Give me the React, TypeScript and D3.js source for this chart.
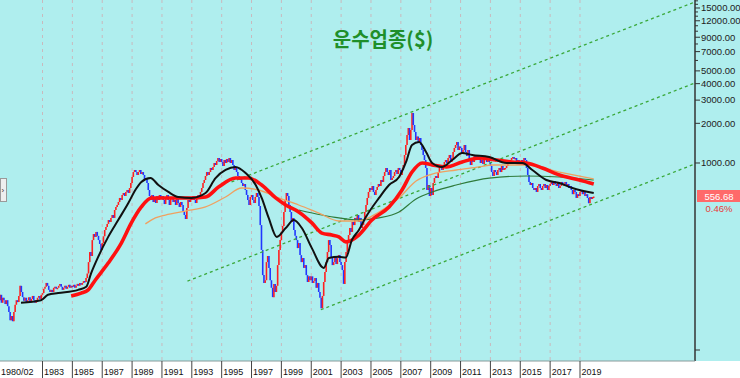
import React from "react";
import * as d3 from "d3";

// Monthly closes, Feb 1980 .. Dec 2019
const closes1980s = [
  91, 100, 87, 95, 91, 85, 91, 82, 74, 64, 69,
  63, 74, 84, 91, 88, 98, 117, 105, 96, 90, 95, 88,
  91, 96, 88, 93, 98, 91, 87, 91, 95, 98, 93, 100,
  103, 111, 115, 123, 117, 109, 105, 109, 105, 113, 115, 111,
  113, 117, 121, 115, 109, 113, 117, 111, 115, 119, 113, 117,
  115, 119, 113, 117, 121, 117, 123, 119, 123, 127, 125, 134,
  145, 177, 211, 197, 260, 289, 275, 300, 280, 260, 243, 219,
  247, 278, 310, 327, 345, 369, 357, 383, 403, 383, 440, 464,
  480, 506, 543, 524, 572, 592, 562, 603, 624, 592, 646, 705,
  783, 854, 885, 854, 811, 854, 885, 825, 854, 811, 756, 769,
];
const closes1990s = [
  705, 624, 562, 524, 572, 506, 543, 497, 562, 524, 572, 543,
  562, 524, 488, 543, 572, 524, 480, 533, 552, 506, 524, 480,
  543, 497, 464, 506, 480, 425, 403, 376, 456, 524, 506, 543,
  524, 562, 524, 497, 552, 572, 543, 603, 646, 705, 743, 797,
  854, 811, 854, 917, 885, 933, 1000, 966, 1036, 1091, 1018, 1072,
  1018, 950, 1054, 1000, 1072, 1018, 1091, 1000, 1054, 966, 885, 917,
  854, 797, 743, 769, 705, 669, 693, 624, 572, 524, 480, 552,
  572, 524, 497, 552, 592, 552, 472, 338, 219, 141, 123, 129,
  177, 197, 160, 129, 113, 96, 121, 105, 117, 168, 219, 260,
  300, 333, 425, 524, 592, 562, 480, 425, 357, 383, 310, 280,
];
const closes2000s = [
  260, 226, 247, 200, 177, 190, 160, 168, 141, 125, 138, 129,
  138, 123, 127, 134, 113, 123, 105, 95, 79, 98, 125, 149,
  177, 211, 260, 239, 190, 168, 177, 197, 171, 190, 200, 177,
  168, 154, 121, 177, 211, 252, 284, 321, 300, 357, 338, 383,
  369, 403, 357, 383, 321, 338, 369, 425, 480, 543, 603, 646,
  624, 669, 603, 572, 624, 657, 693, 669, 743, 718, 797, 854,
  917, 854, 811, 885, 743, 769, 797, 854, 885, 825, 917, 885,
  811, 885, 966, 1150, 1369, 1631, 1843, 1494, 1780, 2395, 1942, 1720,
  1494, 1589, 1443, 1547, 1369, 1255, 1150, 1054, 917, 624, 681, 562,
  646, 572, 705, 769, 797, 769, 854, 917, 950, 885, 966, 1018,
];
const closes2010s = [
  1054, 1000, 1091, 1150, 1018, 1091, 1212, 1300, 1369, 1443, 1255, 1335,
  1300, 1190, 1255, 1369, 1212, 1130, 1255, 1054, 966, 1091, 1018, 1130,
  1091, 1150, 1054, 1110, 1000, 1054, 983, 1091, 1130, 1018, 1054, 1018,
  950, 854, 797, 885, 854, 811, 885, 917, 854, 950, 885, 917,
  917, 950, 983, 1018, 1054, 1091, 1110, 1072, 1091, 1018, 1054, 1000,
  1018, 1054, 1000, 1091, 1054, 917, 811, 718, 681, 705, 646, 624,
  646, 603, 669, 693, 646, 624, 669, 693, 646, 681, 624, 669,
  693, 718, 681, 730, 693, 669, 705, 646, 669, 718, 681, 693,
  718, 669, 693, 646, 669, 624, 580, 624, 603, 543, 580, 562,
  603, 624, 580, 603, 562, 580, 543, 495, 552, 533, 552, 556.68,
];

// Moving averages: [decimal year, value]
const ma20: [number, number][] = [
  [1981.56, 87], [1982.9, 91], [1983.37, 100], [1984.05, 103], [1985.39, 109], [1985.93, 115],
  [1986.26, 146], [1986.73, 194], [1987.4, 275], [1988.07, 369], [1988.75, 497], [1989.22, 624],
  [1989.62, 718], [1990.23, 769], [1990.76, 681], [1991.43, 603], [1992.1, 552], [1992.98, 543],
  [1993.92, 592], [1994.59, 769], [1995.26, 885], [1995.93, 933], [1996.6, 840], [1997.28, 681],
  [1997.68, 543], [1998.15, 383], [1998.69, 275], [1999.29, 321], [1999.83, 369], [2000.37, 321],
  [2001.04, 226], [2001.84, 160], [2002.18, 190], [2002.85, 194], [2003.32, 192], [2003.72, 260],
  [2004.19, 310], [2004.66, 389], [2005.54, 543], [2006.21, 681], [2006.88, 783], [2007.35, 1018],
  [2007.75, 1369], [2008.22, 1443], [2008.69, 1212], [2009.1, 1000], [2009.77, 933], [2010.44, 1054],
  [2011.11, 1190], [2011.78, 1150], [2012.92, 1110], [2014.07, 1000], [2015.14, 1000], [2015.81, 885],
  [2016.75, 743], [2017.62, 705], [2018.49, 646], [2019.92, 592],
];
const ma60: [number, number][] = [
  [1984.92, 98], [1985.59, 103], [1986.06, 109], [1986.53, 129], [1987.4, 174], [1988.28, 247],
  [1988.95, 351], [1989.62, 464], [1990.29, 543], [1991.43, 543], [1992.98, 543], [1993.92, 552],
  [1994.79, 657], [1995.93, 769], [1996.8, 769], [1997.68, 681], [1998.62, 543], [1999.29, 480],
  [2000.16, 425], [2001.04, 351], [2001.71, 294], [2002.38, 284], [2002.85, 275], [2003.32, 252],
  [2004.19, 284], [2005.06, 369], [2006.21, 464], [2007.08, 624], [2007.75, 854], [2008.43, 1000],
  [2009.1, 966], [2010.04, 933], [2011.11, 1018], [2012.25, 1091], [2013.39, 1054], [2014.47, 1018],
  [2015.41, 1000], [2016.48, 917], [2017.62, 811], [2018.96, 743], [2019.92, 693],
];
const ma120: [number, number][] = [
  [1989.89, 345], [1990.56, 383], [1991.23, 403], [1992.57, 432], [1993.92, 464], [1995.26, 552],
  [1996.34, 646], [1997.48, 624], [1998.82, 543], [2000.16, 480], [2001.51, 417], [2002.85, 363],
  [2004.19, 363], [2005.54, 425], [2006.88, 543], [2008.02, 730], [2009.1, 825], [2010.71, 885],
  [2012.25, 933], [2013.12, 966], [2015.41, 966], [2017.62, 854], [2019.92, 757],
];
const ma240: [number, number][] = [
  [2000.16, 440], [2001.71, 403], [2002.85, 383], [2004.19, 369], [2005.54, 383], [2006.88, 425],
  [2008.02, 533], [2009.1, 603], [2010.71, 681], [2012.92, 769], [2015.41, 797], [2017.62, 783],
  [2019.92, 743],
];

// Trend channel: two points each [decimal year, value]
const trendLower: [number, number][] = [[2001.64, 77], [2026.69, 983]];
const trendMiddle: [number, number][] = [[1992.71, 127], [2026.69, 4045]];
const trendUpper: [number, number][] = [[1995.66, 718], [2026.69, 16650]];

const axisMajor = [1000, 2000, 3000, 4000, 5000, 7000, 9000, 12000, 15000];
const axisMinor = [6000, 8000, 10000, 11000, 13000, 14000, 16000, 17000];
const xTickYears = [1983, 1985, 1987, 1989, 1991, 1993, 1995, 1997, 1999, 2001, 2003, 2005, 2007, 2009, 2011, 2013, 2015, 2017, 2019];
const firstLabel = "1980/02";
const title = "운수업종($)";
const lastChange = "0.46%";

const W = 740;
const H = 378;
const PLOT_R = 695;
const PLOT_B = 361;
const FONT = "'Liberation Sans', Arial, sans-serif";

export default function App() {
  const closes = [...closes1980s, ...closes1990s, ...closes2000s, ...closes2010s];
  const dateOf = (i: number) => 1980 + (i + 1) / 12;
  const x = d3.scaleLinear().domain([1983, 2019]).range([42.5, 580]);
  const y = d3.scaleLog().domain([31.45, 17250]).range([PLOT_B, 0]);

  const bars = closes.map((c, i) => {
    const o = i === 0 ? c : closes[i - 1];
    let y0 = y(Math.max(o, c));
    let y1 = y(Math.min(o, c));
    if (y1 - y0 < 1.5) y1 = y0 + 1.5;
    return { xp: x(dateOf(i)), y0, y1, up: c >= o };
  });

  const maLine = d3
    .line<[number, number]>()
    .x((d) => x(d[0]))
    .y((d) => y(d[1]))
    .curve(d3.curveMonotoneX);

  const tEnd = x.invert(PLOT_R);
  const trendPath = (pts: [number, number][]) => {
    const [[t0, v0], [t1, v1]] = pts;
    const slope = (Math.log10(v1) - Math.log10(v0)) / (t1 - t0);
    const vEnd = Math.pow(10, Math.log10(v0) + slope * (tEnd - t0));
    return `M${x(t0)},${y(v0)}L${PLOT_R},${y(vEnd)}`;
  };

  const labelDates = [1980 + 1 / 12, ...xTickYears];
  const labelTexts = [firstLabel, ...xTickYears.map(String)];
  const last = closes[closes.length - 1];

  return (
    <svg
      width={W}
      height={H}
      style={{ position: "absolute", left: 0, top: 0, display: "block" }}
      fontFamily={FONT}
    >
      <defs>
        <clipPath id="plotClip">
          <rect x={0} y={0} width={PLOT_R} height={PLOT_B} />
        </clipPath>
      </defs>
      <rect x={0} y={0} width={W} height={H} fill="#ffffff" />
      <rect x={0} y={0} width={W} height={PLOT_B} fill="#AFEEEE" />

      {/* vertical dashed grid */}
      {labelDates.map((t, i) => (
        <line
          key={"g" + i}
          x1={x(t)}
          x2={x(t)}
          y1={0}
          y2={PLOT_B}
          stroke="#c9b9bd"
          strokeWidth={1}
          strokeDasharray="3,4"
        />
      ))}

      <g clipPath="url(#plotClip)">
        {/* price bars */}
        {bars.map((b, i) => (
          <line
            key={"b" + i}
            x1={b.xp}
            x2={b.xp}
            y1={b.y0}
            y2={b.y1}
            stroke={b.up ? "#ff1e1e" : "#2036ff"}
            strokeWidth={1.6}
          />
        ))}

        {/* trend channel */}
        {[trendLower, trendMiddle, trendUpper].map((t, i) => (
          <path
            key={"t" + i}
            d={trendPath(t)}
            fill="none"
            stroke="#3aa83a"
            strokeWidth={1.3}
            strokeDasharray="3,3"
          />
        ))}

        {/* moving averages */}
        <path d={maLine(ma240) || ""} fill="none" stroke="#2e7a3a" strokeWidth={1.2} />
        <path d={maLine(ma120) || ""} fill="none" stroke="#f0a060" strokeWidth={1.3} />
        <path d={maLine(ma60) || ""} fill="none" stroke="#ff1010" strokeWidth={3.6} />
        <path d={maLine(ma20) || ""} fill="none" stroke="#111111" strokeWidth={2} />
      </g>

      {/* title */}
      <text
        x={383}
        y={47}
        textAnchor="middle"
        fontSize={20}
        fontWeight="bold"
        fill="#1f8f2a"
        fontFamily="'Noto Sans CJK KR', 'Noto Sans', sans-serif"
      >
        {title}
      </text>

      {/* left widget */}
      <rect x={0.5} y={178.5} width={6} height={23} fill="#eeeeee" stroke="#9a9a9a" />
      <text x={1.5} y={193} fontSize={8} fill="#333">›</text>

      {/* right axis */}
      <line x1={PLOT_R} x2={PLOT_R} y1={0} y2={PLOT_B} stroke="#333" strokeWidth={1.5} />
      {axisMinor.map((v) => (
        <line key={"mn" + v} x1={PLOT_R} x2={PLOT_R + 3} y1={y(v)} y2={y(v)} stroke="#333" />
      ))}
      {axisMajor.map((v) => (
        <g key={"mj" + v}>
          <line x1={PLOT_R} x2={PLOT_R + 5} y1={y(v)} y2={y(v)} stroke="#333" />
          <text x={701} y={y(v)} dy="0.35em" fontSize={9.5} fill="#222">
            {v.toFixed(2)}
          </text>
        </g>
      ))}
      <line x1={PLOT_R} x2={PLOT_R + 5} y1={350} y2={350} stroke="#333" />

      {/* last price label */}
      <rect x={697} y={190} width={43} height={12} fill="#ff6a6a" />
      <text x={719} y={y(last)} dy="0.35em" fontSize={9.5} fill="#ffffff" textAnchor="middle">
        {last.toFixed(2)}
      </text>
      <text x={719} y={y(last) + 12} dy="0.35em" fontSize={9.5} fill="#e83a3a" textAnchor="middle">
        {lastChange}
      </text>

      {/* bottom axis */}
      <line x1={0} x2={PLOT_R} y1={PLOT_B} y2={PLOT_B} stroke="#8a9a9a" strokeWidth={1} />
      {labelDates.map((t, i) => (
        <g key={"xl" + i}>
          <line x1={x(t)} x2={x(t)} y1={PLOT_B} y2={H} stroke="#444" strokeWidth={1} />
          <text x={Math.max(x(t) + 1.5, 1)} y={375} fontSize={9} fill="#111">
            {labelTexts[i]}
          </text>
        </g>
      ))}
    </svg>
  );
}
